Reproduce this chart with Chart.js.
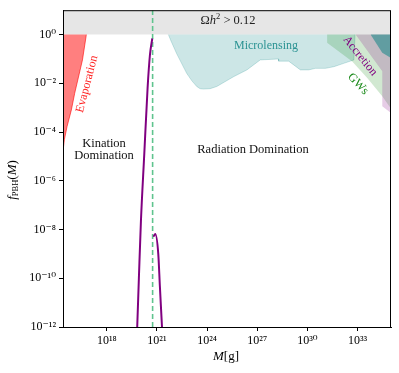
<!DOCTYPE html>
<html><head><meta charset="utf-8">
<script src="https://cdn.jsdelivr.net/npm/chart.js@4.4.1/dist/chart.umd.min.js"></script>
<style>html,body{margin:0;padding:0;background:#fff}</style>
</head><body>
<canvas id="c" width="399" height="373"></canvas>
<script>
// ---- data ----
const xTickExponents = [18, 21, 24, 27, 30, 33];
const yTickExponents = [-12, -10, -8, -6, -4, -2, 0];
const massMin = 2.4e15, massMax = 1e35;
const fMin = 1e-12, fMax = 10;
const fBound = 1; // Omega h^2 > 0.12 limit

// f_PBH(M) curve, two branches
const curveMassA = [6.6e19, 8.3e19, 1.1e20, 1.74e20, 2.75e20, 3.8e20, 5.25e20];
const curveFA    = [1e-12, 1e-10, 2.2e-8, 1.2e-5, 6.3e-3, 0.145, 0.69];
const curveMassB = [6.6e20, 7.9e20, 1.2e21, 1.5e21, 1.9e21, 2.0e21];
const curveFB    = [5.5e-9, 6.5e-9, 1e-9, 4.6e-11, 2e-12, 1e-12];

// vertical dashed line (transition mass)
const transitionMass = 5.5e20;

// constraint boundaries
const evapMass = [2.4e15, 2.9e15, 4.2e15, 7.6e15, 1.2e16, 3.5e16, 6.0e16];
const evapF    = [1.6e-5, 4.9e-5, 1.7e-4, 8.1e-4, 3.9e-3, 0.091, 1];

const lensMass = [4.8e21, 6.9e21, 1.5e22, 6.0e22, 1.2e23, 2.4e23, 3.8e23, 6.0e23, 1.5e24, 3.8e24, 3.8e25, 2.4e26, 1.5e27, 1.9e28, 1.9e28, 7.6e28, 3.8e29, 1.2e30, 3.0e30, 1.2e31, 3.8e31, 1.5e32, 6.0e32, 7.1e32];
const lensF    = [1, 0.55, 0.166, 0.0257, 0.0129, 7.4e-3, 6.0e-3, 5.8e-3, 6.0e-3, 7.4e-3, 0.0186, 0.0355, 0.091, 0.1, 0.081, 0.081, 0.0355, 0.0355, 0.041, 0.041, 0.048, 0.066, 0.091, 1];

const gwMass = [1.5e31, 1.5e31, 4.8e32, 3.8e33, 3.0e34, 1e35];
const gwF    = [1, 0.46, 0.078, 0.0166, 2.95e-3, 9e-4];

const accMass = [7.6e32, 3.0e34, 3.0e34, 1e35];
const accF    = [1, 0.031, 1.15e-3, 6e-4];

const darkMass = [6.0e33, 3.0e34, 1e35];
const darkF    = [1, 0.18, 0.11];

// ---- helpers ----
const pts = (xs, ys) => xs.map((x, i) => ({x, y: ys[i]}));
const SUP = {'-':'\u207B','0':'\u2070','1':'\u00B9','2':'\u00B2','3':'\u00B3','4':'\u2074','5':'\u2075','6':'\u2076','7':'\u2077','8':'\u2078','9':'\u2079'};
const sup = s => String(s).split('').map(c => SUP[c]).join('');
const SERIF = '"Liberation Serif","DejaVu Serif",serif';

function drawRich(ctx, parts, x, y, align) {
  let w = 0;
  parts.forEach(p => { ctx.font = p.font; p.w = ctx.measureText(p.t).width; w += p.w; });
  let cx = align === 'center' ? x - w / 2 : x;
  parts.forEach(p => { ctx.font = p.font; ctx.fillText(p.t, cx, y + (p.dy || 0)); cx += p.w; });
}

const region = (data, bg, border, order) => ({
  data, backgroundColor: bg, borderColor: border, borderWidth: border ? 1 : 0,
  fill: {value: fBound}, pointRadius: 0, tension: 0, order
});

const decor = {
  id: 'decor',
  afterDraw(chart) {
    const ctx = chart.ctx, a = chart.chartArea;
    ctx.save();
    ctx.strokeStyle = '#000'; ctx.lineWidth = 1;
    ctx.strokeRect(a.left + 0.5, a.top + 0.5, a.right - a.left - 1, a.bottom - a.top);
    ctx.textBaseline = 'middle';
    const rm = SERIF;
    ctx.fillStyle = '#222';
    drawRich(ctx, [
      {t: '\u03A9', font: '12.5px ' + rm},
      {t: 'h', font: 'italic 12.5px ' + rm},
      {t: '2', font: '8.5px ' + rm, dy: -4},
      {t: ' > 0.12', font: '12.5px ' + rm}
    ], 228, 21, 'center');
    ctx.textAlign = 'center';
    ctx.font = '12.5px ' + rm;
    ctx.fillStyle = '#111';
    ctx.fillText('Kination', 104, 144);
    ctx.fillText('Domination', 104, 156);
    ctx.fillText('Radiation Domination', 253, 150);
    ctx.fillStyle = '#2a9393';
    ctx.font = '12px ' + rm;
    ctx.fillText('Microlensing', 266, 46);
    const rot = (txt, x, y, ang, col) => {
      ctx.save(); ctx.translate(x, y); ctx.rotate(ang * Math.PI / 180);
      ctx.fillStyle = col; ctx.font = '12px ' + rm; ctx.textAlign = 'center';
      ctx.fillText(txt, 0, 0); ctx.restore();
    };
    rot('Evaporation', 87, 84, -75.5, '#ff2020');
    rot('Accretion', 360, 56, 51, '#800080');
    rot('GWs', 358, 84, 46, '#1a8a1a');
    ctx.textAlign = 'left';
    ctx.fillStyle = '#000';
    ctx.save(); ctx.translate(13, 180); ctx.rotate(-Math.PI / 2);
    drawRich(ctx, [
      {t: 'f', font: 'italic 13px ' + rm},
      {t: 'PBH', font: '8.5px ' + rm, dy: 3},
      {t: '(', font: '13px ' + rm},
      {t: 'M', font: 'italic 13px ' + rm},
      {t: ')', font: '13px ' + rm}
    ], 0, 0, 'center');
    ctx.restore();
    drawRich(ctx, [
      {t: 'M', font: 'italic 13px ' + rm},
      {t: '[g]', font: '13px ' + rm}
    ], 226, 357, 'center');
    ctx.restore();
  }
};

new Chart(document.getElementById('c'), {
  type: 'line',
  data: {
    datasets: [
      {data: pts(curveMassA, curveFA), borderColor: '#800080', borderWidth: 2, pointRadius: 0, cubicInterpolationMode: 'monotone', fill: false, order: 0},
      {data: pts(curveMassB, curveFB), borderColor: '#800080', borderWidth: 2, pointRadius: 0, cubicInterpolationMode: 'monotone', fill: false, order: 0, borderCapStyle: 'round'},
      {data: pts([transitionMass, transitionMass], [fMin, fMax]), borderColor: '#5fc48e', borderWidth: 1.6, borderDash: [5, 3], pointRadius: 0, fill: false, order: 1},
      {data: pts([massMin, massMax], [fBound, fBound]), borderWidth: 0, backgroundColor: 'rgba(128,128,128,0.2)', fill: 'end', pointRadius: 0, order: 9},
      region(pts(evapMass, evapF), 'rgba(255,0,0,0.5)', 'rgba(255,0,0,0.6)', 8),
      region(pts(lensMass, lensF), 'rgba(0,128,128,0.2)', 'rgba(0,128,128,0.2)', 7),
      region(pts(gwMass, gwF), 'rgba(0,128,0,0.18)', null, 6),
      region(pts(accMass, accF), 'rgba(128,0,128,0.2)', null, 5),
      region(pts(darkMass, darkF), 'rgba(0,128,128,0.5)', null, 4)
    ]
  },
  options: {
    responsive: false, animation: false,
    layout: {padding: {left: 0, right: 8, top: 8, bottom: 0}},
    plugins: {legend: {display: false}, tooltip: {enabled: false}},
    scales: {
      x: {
        type: 'logarithmic', min: massMin, max: massMax,
        afterBuildTicks: s => { s.ticks = xTickExponents.map(e => ({value: Math.pow(10, e)})); },
        afterFit: s => { s.height = 46; },
        ticks: {autoSkip: false, maxRotation: 0, color: '#000', padding: 3,
          font: {family: SERIF, size: 12},
          callback: v => '10' + sup(Math.round(Math.log10(v)))},
        grid: {display: true, drawOnChartArea: false, tickLength: 4, color: '#000'},
        border: {display: true, color: '#000', width: 1}
      },
      y: {
        type: 'logarithmic', min: fMin, max: fMax,
        afterBuildTicks: s => { s.ticks = yTickExponents.map(e => ({value: Math.pow(10, e)})); },
        afterFit: s => { s.width = 63; },
        ticks: {autoSkip: false, color: '#000', padding: 3,
          font: {family: SERIF, size: 12},
          callback: v => '10' + sup(Math.round(Math.log10(v)))},
        grid: {display: true, drawOnChartArea: false, tickLength: 4, color: '#000'},
        border: {display: true, color: '#000', width: 1}
      }
    }
  },
  plugins: [decor]
});
</script>
</body></html>
